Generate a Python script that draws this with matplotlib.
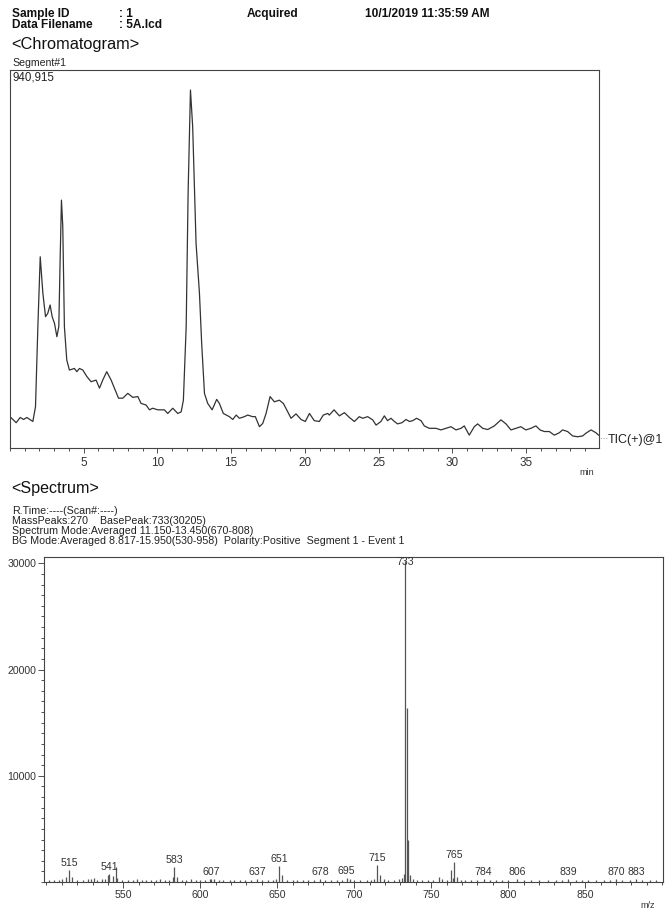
import matplotlib
matplotlib.use("Agg")
import matplotlib.pyplot as plt
from matplotlib.ticker import MultipleLocator, FixedLocator, NullLocator

plt.rcParams['font.family'] = ['Liberation Sans', 'DejaVu Sans']

# ---------------- data ----------------
# Chromatogram (TIC) : retention time (min) / intensity (counts)
rt = [0.0, 0.42, 0.69, 0.92, 1.14, 1.55, 1.73, 1.89, 2.05, 2.23, 2.41, 2.56, 2.72, 2.86,
      3.02, 3.18, 3.31, 3.40, 3.49, 3.58, 3.69, 3.85, 4.03, 4.37, 4.53, 4.71, 4.94, 5.21,
      5.50, 5.84, 6.07, 6.29, 6.56, 6.86, 7.08, 7.36, 7.65, 7.99, 8.33, 8.67, 8.89, 9.23,
      9.46, 9.68, 10.02, 10.47, 10.70, 11.04, 11.38, 11.61, 11.76, 11.95, 12.08, 12.24,
      12.39, 12.62, 12.85, 13.00, 13.19, 13.41, 13.71, 14.02, 14.20, 14.47, 14.88, 15.11,
      15.34, 15.56, 15.90, 16.12, 16.46, 16.64, 16.92, 17.14, 17.37, 17.64, 17.93, 18.27,
      18.54, 18.77, 19.06, 19.40, 19.74, 20.03, 20.31, 20.64, 20.98, 21.25, 21.55,
      21.66, 21.98, 22.34, 22.68, 23.02, 23.36, 23.69, 23.92, 24.26, 24.60, 24.83, 25.16,
      25.39, 25.61, 25.84, 26.07, 26.29, 26.59, 26.86, 27.09, 27.31, 27.58, 27.88, 28.10,
      28.44, 28.89, 29.23, 29.57, 29.91, 30.25, 30.59, 30.81, 31.15, 31.49, 31.72, 32.06,
      32.40, 32.85, 33.30, 33.64, 33.98, 34.32, 34.65, 34.99, 35.33, 35.67, 35.95, 36.24,
      36.58, 36.92, 37.26, 37.48, 37.82, 38.16, 38.50, 38.84, 39.07, 39.41, 39.74, 39.92]
tic_k = [78, 63, 76, 71, 76, 66, 103, 302, 476, 385, 327, 335, 356, 327,
         310, 277, 302, 468, 617, 551, 302, 219, 194, 198, 190, 198, 194, 178,
         165, 169, 149, 169, 190, 169, 149, 124, 124, 136, 126, 128, 111, 107,
         95, 99, 95, 95, 86, 99, 86, 90, 119, 302, 634, 891,
         800, 509, 385, 261, 136, 111, 95, 121, 111, 86, 78, 71,
         82, 74, 78, 82, 78, 78, 53, 61, 86, 128, 115, 119,
         111, 95, 74, 85, 71, 66, 86, 68, 66, 82, 86,
         82, 95, 80, 88, 76, 66, 78, 74, 78, 70, 57, 66,
         80, 68, 74, 66, 60, 63, 71, 66, 68, 74, 68, 55,
         49, 49, 45, 49, 53, 45, 49, 55, 32, 53, 60, 49,
         46, 55, 70, 60, 45, 49, 53, 45, 49, 55, 45, 41,
         41, 32, 38, 45, 41, 30, 28, 30, 37, 45, 38, 32]
tic_max = 940915
chrom_ticks = [5, 10, 15, 20, 25, 30, 35]

# Mass spectrum : m/z / intensity
mz = [502, 505, 508, 510, 513, 515, 517, 520, 524, 527, 529, 531, 533, 536, 538, 540, 541,
      543, 545, 546, 549, 553, 556, 559, 562, 565, 568, 571, 574, 577, 580, 582, 583, 585,
      588, 591, 594, 597, 600, 603, 606, 607, 609, 612, 615, 619, 622, 626, 629, 633, 637,
      640, 644, 647, 649, 651, 653, 656, 660, 663, 667, 670, 674, 678, 681, 685, 689, 692,
      695, 697, 700, 704, 708, 711, 713, 715, 717, 719, 722, 726, 729, 731, 732, 733, 734,
      735, 736, 738, 741, 744, 748, 751, 755, 757, 760, 763, 764, 765, 767, 769, 772, 776,
      780, 784, 788, 792, 796, 800, 806, 810, 815, 820, 826, 831, 835, 839, 844, 848, 852,
      857, 862, 866, 870, 874, 879, 883, 887, 892, 896]
inten = [150, 200, 150, 250, 500, 1150, 500, 150, 200, 300, 250, 350, 200, 250, 300, 650, 750,
         600, 1400, 400, 150, 200, 150, 250, 150, 200, 150, 200, 250, 150, 200, 500, 1450, 450,
         200, 150, 250, 200, 150, 200, 250, 300, 250, 150, 200, 150, 200, 150, 200, 150, 300,
         150, 200, 150, 250, 1500, 650, 200, 150, 200, 150, 200, 150, 250, 150, 200, 150, 200,
         350, 250, 150, 200, 150, 200, 250, 1600, 650, 250, 150, 200, 250, 400, 800, 30205, 16400,
         4000, 700, 250, 200, 150, 200, 150, 500, 300, 150, 1100, 400, 1850, 500, 200, 150, 200,
         150, 250, 150, 200, 150, 150, 250, 150, 200, 150, 200, 150, 200, 250, 150, 200, 150,
         200, 150, 200, 250, 150, 200, 250, 150, 200, 150]
labeled_mz = [515, 541, 583, 607, 637, 651, 678, 695, 715, 765, 784, 806, 839, 870, 883]
base_peak = 733
spec_ticks = [550, 600, 650, 700, 750, 800, 850]
spec_yticks = [10000, 20000, 30000]

# ---------------- figure ----------------
W, H = 665, 913
fig = plt.figure(figsize=(W / 100, H / 100), dpi=100)


def rect(x0, y0, x1, y1):
    return [x0 / W, 1 - y1 / H, (x1 - x0) / W, (y1 - y0) / H]


def ftext(x, y, s, **kw):
    fig.text(x / W, 1 - y / H, s, **kw)


# header
hb = dict(fontsize=8.6, fontweight='bold', va='baseline', color='#111111')
ftext(12, 17, "Sample ID", **hb)
ftext(119, 17, ": 1", **hb)
ftext(247, 17, "Acquired", **hb)
ftext(365, 17, "10/1/2019 11:35:59 AM", **hb)
ftext(12, 28, "Data Filename", **hb)
ftext(119, 28, ": 5A.lcd", **hb)
ftext(11, 49.5, "<Chromatogram>", fontsize=11.8, va='baseline', color='#111111')
ftext(12, 66, "Segment#1", fontsize=7.6, va='baseline', color='#222222')

# chromatogram
ax1 = fig.add_axes(rect(10, 70, 599, 448))
ax1.plot(rt, [v * 1000 for v in tic_k], color='#333333', lw=0.9)
ax1.set_xlim(0, 39.95)
ax1.set_ylim(0, tic_max)
ax1.xaxis.set_major_locator(FixedLocator(chrom_ticks))
ax1.xaxis.set_minor_locator(MultipleLocator(1))
ax1.yaxis.set_major_locator(NullLocator())
ax1.tick_params(axis='x', which='major', direction='out', length=3.5, width=0.6,
                labelsize=8.5, pad=3, colors='#333333')
ax1.tick_params(axis='x', which='minor', direction='out', length=2.5, width=0.6,
                colors='#333333')
for s in ax1.spines.values():
    s.set_linewidth(0.8)
    s.set_color('#444444')
ax1.text(0.004, 0.995, f"{tic_max:,}", transform=ax1.transAxes, fontsize=8.3,
         va='top', ha='left', color='#222222')
ftext(600, 440, "···", fontsize=6, va='center', color='#777777')
ftext(608, 440, "TIC(+)@1", fontsize=9, va='center', color='#222222')
ftext(579, 472, "min", fontsize=6.5, va='center', color='#333333')

# spectrum header
ftext(11, 492.5, "<Spectrum>", fontsize=11.6, va='baseline', color='#111111')
sb = dict(fontsize=7.7, va='baseline', color='#222222')
ftext(12, 514, "R.Time:----(Scan#:----)", **sb)
ftext(12, 524, "MassPeaks:270    BasePeak:733(30205)", **sb)
ftext(12, 534, "Spectrum Mode:Averaged 11.150-13.450(670-808)", **sb)
ftext(12, 544, "BG Mode:Averaged 8.817-15.950(530-958)  Polarity:Positive  Segment 1 - Event 1", **sb)

# spectrum
ax2 = fig.add_axes(rect(44, 557, 663, 882))
ax2.vlines(mz, 0, inten, color='#555555', lw=0.9)
ax2.set_xlim(498.5, 900.5)
ax2.set_ylim(0, 30600)
ax2.xaxis.set_major_locator(FixedLocator(spec_ticks))
ax2.xaxis.set_minor_locator(MultipleLocator(10))
ax2.yaxis.set_major_locator(FixedLocator(spec_yticks))
ax2.yaxis.set_minor_locator(MultipleLocator(1000))
ax2.tick_params(which='major', direction='out', length=4, width=0.6, labelsize=7.6,
                pad=1.5, colors='#333333')
ax2.tick_params(which='minor', direction='out', length=2.5, width=0.6, colors='#333333')
for s in ax2.spines.values():
    s.set_linewidth(0.8)
    s.set_color('#444444')
lookup = dict(zip(mz, inten))
for m in labeled_mz:
    ax2.annotate(str(m), (m, lookup[m]), xytext=(0, 1.5), textcoords='offset points',
                 ha='center', va='bottom', fontsize=7.6, color='#333333')
ax2.text(base_peak, 30600, str(base_peak), ha='center', va='top', fontsize=7.6,
         color='#333333')
ftext(640, 905, "m/z", fontsize=6.5, va='center', color='#333333')

fig.savefig("out.png", dpi=100)
